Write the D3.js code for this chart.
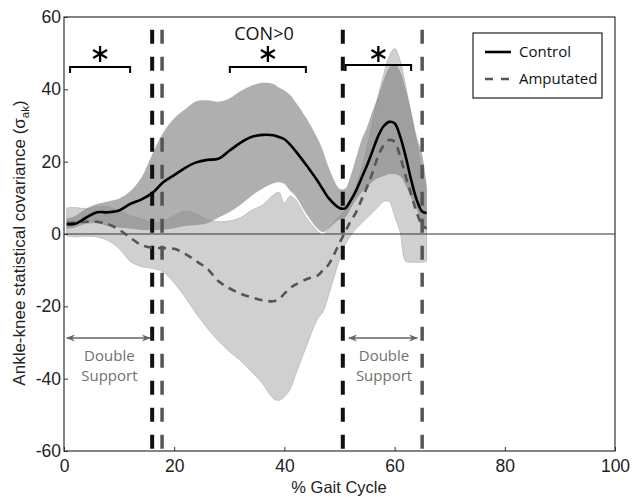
<!DOCTYPE html>
<html>
<head>
<meta charset="utf-8">
<script src="https://cdn.jsdelivr.net/npm/d3@7"></script>
<style>
  body { margin: 0; background: #fff; }
  .tick text { font-family: 'Liberation Sans', Arial, sans-serif; font-size: 17.5px; fill: #222; }
  .note { font-family: 'Open Sans', sans-serif; }
  .lab { font-family: 'Liberation Sans', Arial, sans-serif; }
</style>
</head>
<body>
<div id="chart"></div>
<script>
// % gait cycle sample points
var gaitPct = [0.5, 2, 4, 6, 8, 10, 12, 14, 16, 18, 20, 22, 24, 26, 28, 30, 32, 34, 36, 38, 39, 40, 41, 42, 44, 46, 47, 48, 50, 51, 52, 53, 54, 55, 56, 57, 58, 59, 60, 61, 62, 63, 64, 65, 65.8];

// control group: mean and band
var controlMean = [2.7, 2.8, 4.5, 6.0, 6.0, 6.5, 8.3, 9.5, 11.3, 14.3, 16.3, 18.3, 19.8, 20.5, 20.8, 23, 25.2, 26.8, 27.4, 27.3, 26.8, 26.2, 24.8, 23, 19, 14.7, 12.3, 10, 7.2, 7.1, 9.2, 12, 15.5, 19, 23, 27, 29.8, 31, 30.6, 27, 21.5, 15, 9.5, 6.2, 5.8];
var controlUpper = [4.3, 5, 7, 8.3, 9, 9.8, 11.8, 15.5, 22, 28, 32, 34.5, 36.7, 37, 36.6, 37.5, 39.5, 41, 41.8, 41.5, 40.5, 39.7, 38.5, 36.5, 32, 26.5, 23, 18.5, 12.5, 12.5, 16, 21, 26, 29.5, 34, 38, 42.5, 46, 47, 45, 40, 34, 27, 22, 14];
var controlLower = [1.5, 1.8, 2.8, 3, 2.2, 1.8, 1.5, 1.1, 1.1, 1.2, 1.6, 2.2, 2.5, 3, 4.5, 6, 8, 10.5, 12.5, 14, 14.3, 13.8, 12, 10.5, 5.5, 1.5, 0.5, 1.5, 4, 4.5, 7, 9.5, 11.5, 13, 14.5, 15.5, 16, 16.5, 16.5, 16, 13.5, 10, 7, 3, 1.5];

// amputated group: mean and band
var ampMean = [3, 3.2, 3.4, 3.4, 2.7, 1.2, -1, -3, -3.8, -3.9, -4.1, -5.5, -7.5, -9.6, -13, -15, -16.5, -17.5, -18.3, -18.6, -18, -16.5, -15, -14, -12.5, -11.5, -10, -8.5, -2.5, 0.5, 3.5, 6, 9.5, 13, 17, 21.5, 24.5, 26, 25.5, 21.5, 16, 11, 6, 2.5, 1.5];
var ampUpper = [7.2, 7.3, 7, 7.5, 7.5, 6.5, 5, 4.2, 3.2, 3.5, 5, 6.3, 5.5, 4, 3.4, 3.6, 4.5, 6.5, 8, 10.8, 11.5, 8.5, 10.5, 9.5, 4.5, 0.8, -0.5, 1.5, 5, 6.5, 9.5, 13, 18, 24, 31, 38, 44, 49, 51.3, 48, 41, 33, 25, 17, 13];
var ampLower = [-0.5, -0.8, -0.6, -0.8, -1.8, -4, -7.5, -9, -9.5, -10.5, -13.5, -17.5, -22, -26, -29.5, -32.5, -35, -38, -41.3, -45.5, -46, -45, -43, -39, -31, -23.5, -21.5, -17, -7, -3, -0.5, 1.5, 3, 4.5, 6, 7.5, 9, 9, 5, 0.5, -7.5, -7.8, -7.8, -7.8, -7.5];

// gait events (vertical dashed lines)
var controlEvents = [16, 50.6];
var ampEvents = [17.8, 65];

// significance brackets [start, end]
var sigRanges = [[1.1, 12], [30.1, 43.9], [51.1, 63]];

var xTicks = [0, 20, 40, 60, 80, 100];
var yTicks = [-60, -40, -20, 0, 20, 40, 60];

var width = 632, height = 497;
var margin = {top: 17, right: 17, bottom: 46, left: 64};

var svg = d3.select("#chart").append("svg")
  .attr("width", width)
  .attr("height", height);

var x = d3.scaleLinear().domain([0, 100]).range([margin.left, width - margin.right]);
var y = d3.scaleLinear().domain([-60, 60]).range([height - margin.bottom, margin.top]);

var pts = gaitPct.map(function(g, i) {
  return {g: g, cm: controlMean[i], cu: controlUpper[i], cl: controlLower[i],
          am: ampMean[i], au: ampUpper[i], al: ampLower[i]};
});

var curve = d3.curveCatmullRom.alpha(0.5);

// amputated band (light grey)
svg.append("path")
  .datum(pts)
  .attr("fill", "#d0d0d0")
  .attr("stroke", "#b8b8b8")
  .attr("stroke-width", 0.8)
  .attr("d", d3.area().curve(curve)
    .x(function(d) { return x(d.g); })
    .y0(function(d) { return y(d.al); })
    .y1(function(d) { return y(d.au); }));

// control band (darker, see-through)
svg.append("path")
  .datum(pts)
  .attr("fill", "rgb(133,133,133)")
  .attr("fill-opacity", 0.66)
  .attr("d", d3.area().curve(curve)
    .x(function(d) { return x(d.g); })
    .y0(function(d) { return y(d.cl); })
    .y1(function(d) { return y(d.cu); }));

// zero line
svg.append("line")
  .attr("x1", x(0)).attr("x2", x(100))
  .attr("y1", y(0)).attr("y2", y(0))
  .attr("stroke", "#333").attr("stroke-width", 1);

// event lines
controlEvents.forEach(function(e) {
  svg.append("line")
    .attr("x1", x(e)).attr("x2", x(e))
    .attr("y1", y(56.5)).attr("y2", y(-60))
    .attr("stroke", "#111").attr("stroke-width", 4)
    .attr("stroke-dasharray", "14,13");
});
ampEvents.forEach(function(e) {
  svg.append("line")
    .attr("x1", x(e)).attr("x2", x(e))
    .attr("y1", y(56.5)).attr("y2", y(-60))
    .attr("stroke", "#555").attr("stroke-width", 3.5)
    .attr("stroke-dasharray", "14,13");
});

// mean lines
svg.append("path")
  .datum(pts)
  .attr("fill", "none")
  .attr("stroke", "#555")
  .attr("stroke-width", 2.6)
  .attr("stroke-dasharray", "8,6")
  .attr("d", d3.line().curve(curve)
    .x(function(d) { return x(d.g); })
    .y(function(d) { return y(d.am); }));

svg.append("path")
  .datum(pts)
  .attr("fill", "none")
  .attr("stroke", "#000")
  .attr("stroke-width", 2.6)
  .attr("d", d3.line().curve(curve)
    .x(function(d) { return x(d.g); })
    .y(function(d) { return y(d.cm); }));

// axes
var xAxis = d3.axisBottom(x).tickValues(xTicks).tickSize(-4).tickPadding(9)
  .tickFormat(function(d) { return String(d); });
var yAxis = d3.axisLeft(y).tickValues(yTicks).tickSize(-4).tickPadding(3)
  .tickFormat(function(d) { return String(d); });

var gx = svg.append("g").attr("transform", "translate(0," + y(-60) + ")").call(xAxis);
var gy = svg.append("g").attr("transform", "translate(" + x(0) + ",0)").call(yAxis);
[gx, gy].forEach(function(g) {
  g.attr("font-family", null).attr("font-size", null);
  g.select(".domain").remove();
  g.selectAll(".tick line").attr("stroke", "#333");
});

// frame
svg.append("rect")
  .attr("x", x(0)).attr("y", y(60))
  .attr("width", x(100) - x(0)).attr("height", y(-60) - y(60))
  .attr("fill", "none").attr("stroke", "#333").attr("stroke-width", 1.2);

// significance brackets and asterisks
function asterisk(cx, cy, r) {
  var g = svg.append("g").attr("transform", "translate(" + cx + "," + cy + ")");
  [90, 30, 150].forEach(function(a) {
    var rad = a * Math.PI / 180;
    g.append("line")
      .attr("x1", -r * Math.cos(rad)).attr("y1", -r * Math.sin(rad))
      .attr("x2", r * Math.cos(rad)).attr("y2", r * Math.sin(rad))
      .attr("stroke", "#000").attr("stroke-width", 2.3);
  });
}
sigRanges.forEach(function(r, i) {
  var yy = i == 2 ? 65 : 67;
  svg.append("path")
    .attr("d", "M" + x(r[0]) + "," + (yy + 6) + "V" + yy + "H" + x(r[1]) + "V" + (yy + 6))
    .attr("fill", "none").attr("stroke", "#000").attr("stroke-width", 2);
  asterisk((x(r[0]) + x(r[1])) / 2, 54, 8);
});

svg.append("text")
  .attr("class", "note")
  .attr("x", 264).attr("y", 40)
  .attr("text-anchor", "middle")
  .attr("font-size", 18)
  .attr("fill", "#111")
  .text("CON>0");

// double support arrows
svg.append("defs").append("marker")
  .attr("id", "arr")
  .attr("viewBox", "0 0 10 10")
  .attr("refX", 9).attr("refY", 5)
  .attr("markerWidth", 9).attr("markerHeight", 9)
  .attr("markerUnits", "userSpaceOnUse")
  .attr("orient", "auto-start-reverse")
  .append("path")
  .attr("d", "M0,1L10,5L0,9L3,5Z")
  .attr("fill", "#666");

var supports = [[0.5, 15.6], [51.7, 64.1]];
supports.forEach(function(s) {
  svg.append("line")
    .attr("x1", x(s[0])).attr("x2", x(s[1]))
    .attr("y1", 338).attr("y2", 338)
    .attr("stroke", "#666").attr("stroke-width", 1.5)
    .attr("marker-start", "url(#arr)")
    .attr("marker-end", "url(#arr)");
  var cx = (x(s[0]) + x(s[1])) / 2 + 1;
  svg.append("text").attr("class", "note")
    .attr("x", cx).attr("y", 361)
    .attr("text-anchor", "middle").attr("font-size", 15).attr("fill", "#707070")
    .text("Double");
  svg.append("text").attr("class", "note")
    .attr("x", cx).attr("y", 381)
    .attr("text-anchor", "middle").attr("font-size", 15).attr("fill", "#707070")
    .text("Support");
});

// legend
var lg = svg.append("g");
lg.append("rect")
  .attr("x", 473).attr("y", 33).attr("width", 129).attr("height", 65)
  .attr("fill", "#fff").attr("stroke", "#222").attr("stroke-width", 1.2);
var legendItems = [
  {label: "Control", color: "#000", dash: null},
  {label: "Amputated", color: "#555", dash: "8,8"}
];
legendItems.forEach(function(d, i) {
  var ly = 52 + i * 27;
  lg.append("line")
    .attr("x1", 485).attr("x2", 511)
    .attr("y1", ly).attr("y2", ly)
    .attr("stroke", d.color).attr("stroke-width", 2.6)
    .attr("stroke-dasharray", d.dash);
  lg.append("text").attr("class", "note")
    .attr("x", 519).attr("y", ly + 5)
    .attr("font-size", 15).attr("fill", "#111")
    .text(d.label);
});

// axis labels
svg.append("text")
  .attr("class", "lab")
  .attr("x", 339).attr("y", 493)
  .attr("text-anchor", "middle")
  .attr("font-size", 16.5).attr("fill", "#222")
  .text("% Gait Cycle");

var yl = svg.append("text")
  .attr("class", "lab")
  .attr("transform", "translate(25," + 243 + ") rotate(-90)")
  .attr("text-anchor", "middle")
  .attr("font-size", 17).attr("fill", "#222");
yl.append("tspan").text("Ankle-knee statistical covariance (σ");
yl.append("tspan").attr("font-size", 11.5).attr("dy", 4).text("ak");
yl.append("tspan").attr("dy", -4).text(")");
</script>
</body>
</html>
